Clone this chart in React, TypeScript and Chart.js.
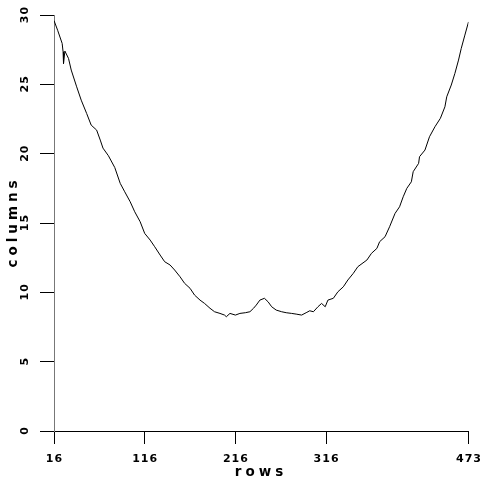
import React, { useEffect, useRef } from "react";
import { Chart, registerables } from "chart.js";

Chart.register(...registerables);

const rows = [
  16, 20, 25, 26, 26.5, 28, 32, 35, 41, 46, 52, 57, 63, 67, 70, 76, 83, 89, 94, 100,
  105, 111, 116, 122, 127, 133, 138, 144, 149, 155, 160, 166, 171, 177, 182, 188, 193,
  199, 204, 206, 210, 216, 221, 227, 232, 236, 239, 243, 248, 252, 256, 261, 267, 272,
  278, 283, 289, 294, 298, 302, 307, 311, 315, 318, 324, 329, 335, 340, 346, 351, 361,
  366, 372, 375, 381, 386, 392, 397, 401, 405, 410, 412, 418, 419, 425, 430, 436, 442,
  447, 449, 454, 458, 462, 465, 469, 473,
];
const columns = [
  29.6, 28.9, 27.95, 27.35, 26.5, 27.4, 26.87, 26.03, 24.82, 23.86, 22.9, 22.06, 21.7,
  20.98, 20.4, 19.85, 19.0, 17.86, 17.25, 16.53, 15.81, 15.09, 14.25, 13.77, 13.29,
  12.69, 12.21, 11.97, 11.61, 11.12, 10.65, 10.29, 9.8, 9.44, 9.2, 8.85, 8.6, 8.48,
  8.36, 8.24, 8.48, 8.36, 8.48, 8.53, 8.6, 8.85, 9.08, 9.44, 9.57, 9.32, 8.96, 8.72,
  8.6, 8.53, 8.48, 8.43, 8.36, 8.53, 8.67, 8.6, 8.96, 9.2, 8.96, 9.44, 9.57, 10.04,
  10.4, 10.89, 11.37, 11.85, 12.33, 12.81, 13.17, 13.65, 14.01, 14.73, 15.69, 16.17,
  16.89, 17.5, 17.97, 18.7, 19.3, 19.78, 20.26, 21.22, 21.94, 22.55, 23.38, 24.1,
  24.95, 25.79, 26.75, 27.59, 28.55, 29.5,
];
const xTickValues = [16, 116, 216, 316, 473];
const yTickValues = [0, 5, 10, 15, 20, 25, 30];
const xTitle = "rows";
const yTitle = "columns";

export default function App() {
  const ref = useRef<HTMLCanvasElement>(null);

  useEffect(() => {
    document.body.style.margin = "0";
    const canvas = ref.current;
    if (!canvas) return;

    const textPlugin = {
      id: "textPlugin",
      afterDraw(chart: any) {
        const c = chart.ctx as CanvasRenderingContext2D;
        const xs = chart.scales.x;
        const ys = chart.scales.y;
        c.save();
        c.fillStyle = "#000";
        c.textAlign = "center";
        c.textBaseline = "middle";
        c.font = "bold 11px 'DejaVu Sans'";
        (c as any).letterSpacing = "1px";
        xTickValues.forEach((v) => {
          c.fillText(String(v), xs.getPixelForValue(v) + 0.5, 459);
        });
        yTickValues.forEach((v) => {
          c.save();
          c.translate(25, ys.getPixelForValue(v));
          c.rotate(-Math.PI / 2);
          c.fillText(String(v), 0.5, 0);
          c.restore();
        });
        c.font = "bold 13.5px 'DejaVu Sans'";
        (c as any).letterSpacing = "4px";
        c.textBaseline = "alphabetic";
        c.fillText(xTitle, 259 + 2, 476);
        c.save();
        c.translate(17, 224);
        c.rotate(-Math.PI / 2);
        c.fillText(yTitle, 2, 0);
        c.restore();
        c.restore();
      },
    };

    const chart = new Chart(canvas, {
      type: "line",
      data: {
        datasets: [
          {
            data: rows.map((r, i) => ({ x: r, y: columns[i] })),
            borderColor: "#000",
            borderWidth: 1,
            pointRadius: 0,
            tension: 0,
            fill: false,
          },
        ],
      },
      options: {
        animation: false,
        responsive: false,
        layout: { padding: { top: 15, right: 13.5, left: 0, bottom: 0 } },
        plugins: { legend: { display: false }, tooltip: { enabled: false } },
        scales: {
          x: {
            type: "linear",
            min: 16,
            max: 473,
            afterBuildTicks: (s: any) => {
              s.ticks = xTickValues.map((v) => ({ value: v }));
            },
            afterFit: (s: any) => {
              s.height = 51;
            },
            ticks: { display: false },
            grid: { drawOnChartArea: false, tickLength: 13, color: "#000" },
            border: { color: "#000" },
          },
          y: {
            type: "linear",
            min: 0,
            max: 30,
            afterBuildTicks: (s: any) => {
              s.ticks = yTickValues.map((v) => ({ value: v }));
            },
            afterFit: (s: any) => {
              s.width = 54;
            },
            ticks: { display: false },
            grid: { drawOnChartArea: false, tickLength: 14, color: "#000" },
            border: { color: "#777" },
          },
        },
      },
      plugins: [textPlugin],
    } as any);

    return () => chart.destroy();
  }, []);

  return (
    <div style={{ position: "absolute", left: 0, top: 0, width: 482, height: 482, background: "#fff" }}>
      <canvas ref={ref} width={482} height={482} style={{ display: "block" }} />
    </div>
  );
}
